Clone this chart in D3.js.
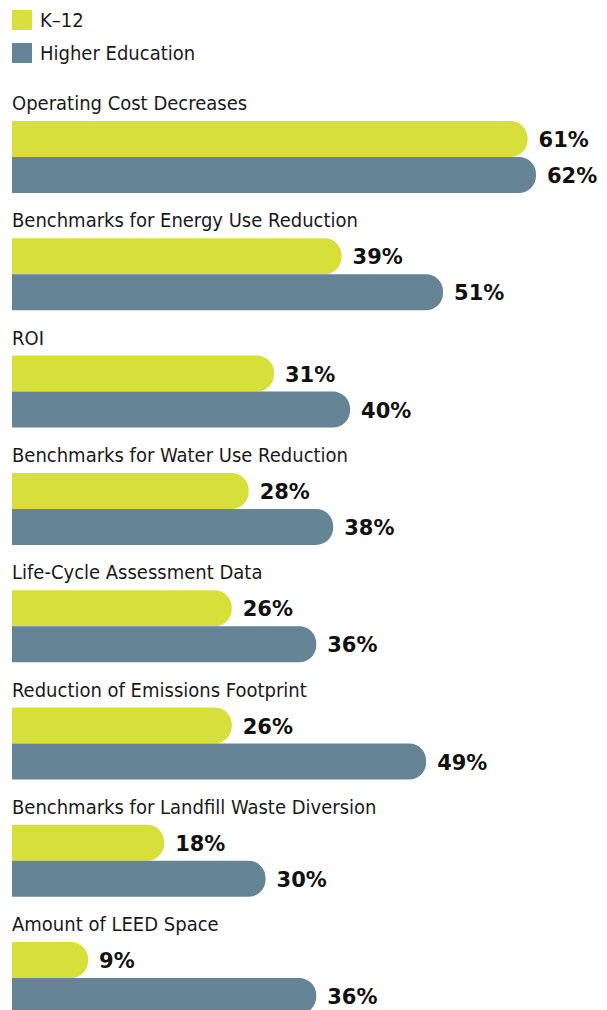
<!DOCTYPE html>
<html>
<head>
<meta charset="utf-8">
<script src="https://cdn.jsdelivr.net/npm/d3@7"></script>
<style>
  body { margin: 0; background: #fff; }
  .cat { font-family: "Liberation Sans Narrow", "DejaVu Sans Condensed", sans-serif; font-size: 20px; fill: #1a1a1a; }
  .val { font-family: "DejaVu Sans", sans-serif; font-weight: 900; font-size: 21px; fill: #111; }
</style>
</head>
<body>
<svg id="chart" width="607" height="1010"></svg>
<script>
const categories = [
  "Operating Cost Decreases",
  "Benchmarks for Energy Use Reduction",
  "ROI",
  "Benchmarks for Water Use Reduction",
  "Life-Cycle Assessment Data",
  "Reduction of Emissions Footprint",
  "Benchmarks for Landfill Waste Diversion",
  "Amount of LEED Space"
]
const seriesNames = ["K\u201312", "Higher Education"]
const k12 = [61, 39, 31, 28, 26, 26, 18, 9]
const higherEd = [62, 51, 40, 38, 36, 49, 30, 36]
const colors = ["#d7df3b", "#658596"]

const svg = d3.select("#chart")
const left = 12
const x = d3.scaleLinear().domain([0, 62]).range([0, 524])
const group = d3.scaleBand().domain(categories).range([121, 121 + 117.3 * 8]).paddingInner(0)
const barH = 36
const r = 17

// rounded right end only
function barPath(w, y0) {
  const rr = Math.min(r, w)
  return "M" + left + "," + y0 +
    "H" + (left + w - rr) +
    "A" + rr + "," + rr + " 0 0 1 " + (left + w) + "," + (y0 + rr) +
    "V" + (y0 + barH - rr) +
    "A" + rr + "," + rr + " 0 0 1 " + (left + w - rr) + "," + (y0 + barH) +
    "H" + left + "Z"
}

// legend
const legend = svg.append("g")
seriesNames.forEach((name, i) => {
  legend.append("rect").attr("x", 12).attr("y", 10 + i * 33).attr("width", 20).attr("height", 20).attr("fill", colors[i])
  legend.append("text").attr("class", "cat").attr("x", 40).attr("y", 27 + i * 33).text(name)
})

const rows = svg.selectAll("g.row").data(categories).join("g").attr("class", "row")

rows.append("text").attr("class", "cat")
  .attr("x", left)
  .attr("y", d => group(d) - 11)
  .text(d => d)

;[k12, higherEd].forEach((vals, s) => {
  rows.append("path")
    .attr("d", (d, i) => barPath(x(vals[i]), group(d) + s * barH))
    .attr("fill", colors[s])
  rows.append("text").attr("class", "val")
    .attr("x", (d, i) => left + x(vals[i]) + 11)
    .attr("y", d => group(d) + s * barH + barH / 2 + 8)
    .text((d, i) => vals[i] + "%")
})
</script>
</body>
</html>
